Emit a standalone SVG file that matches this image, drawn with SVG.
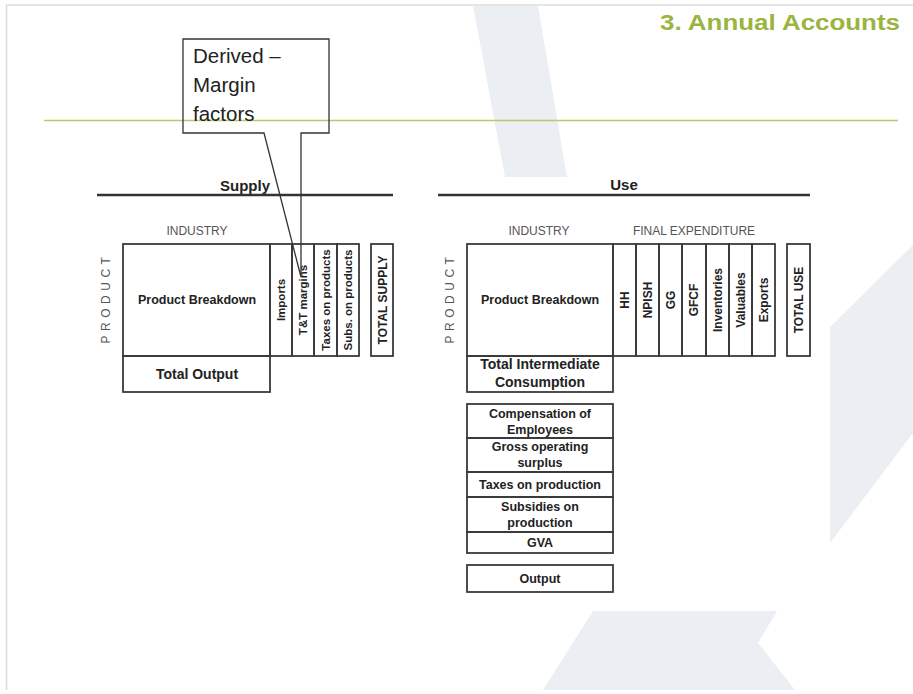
<svg xmlns="http://www.w3.org/2000/svg" width="913" height="694" viewBox="0 0 913 694">
<style>
  text { font-family: "Liberation Sans", Arial, sans-serif; fill: #222; }
  .wm { fill: #ebeff4; stroke: none; }
  .box { fill: none; stroke: #3a3a3a; stroke-width: 1.8; }
  .hd { font-size: 15px; font-weight: bold; text-anchor: middle; }
  .cap { font-size: 12px; fill: #555; text-anchor: middle; }
  .prod { font-size: 12px; fill: #555; letter-spacing: 4.5px; text-anchor: middle; }
  .pb { font-size: 12.5px; font-weight: bold; text-anchor: middle; }
  .big { font-size: 14px; font-weight: bold; text-anchor: middle; }
  .col { font-size: 11.5px; font-weight: bold; text-anchor: middle; }
  .col2 { font-size: 12px; font-weight: bold; text-anchor: middle; }
  .st { font-size: 12.5px; font-weight: bold; text-anchor: middle; }
  .rule { stroke: #333; stroke-width: 2.6; }
</style>
<rect x="0" y="0" width="913" height="694" fill="#ffffff"/>
<g id="background">
  <polygon class="wm" points="473,6 538,6 567,177 505,177"/>
  <polygon class="wm" points="913,245 830,327 830,543 913,433"/>
  <polygon class="wm" points="593,611 777,611 758,643 795,690 543,690"/>
  <line x1="6" y1="5" x2="913" y2="5" stroke="#dcdcdc" stroke-width="1.5"/>
  <line x1="6.5" y1="5" x2="6.5" y2="690" stroke="#dcdcdc" stroke-width="1.5"/>
</g>
<g id="title">
  <text x="900" y="30" text-anchor="end" font-size="22" font-weight="bold" style="fill:#9ab440" textLength="240" lengthAdjust="spacingAndGlyphs">3. Annual Accounts</text>
  <line x1="44" y1="120.5" x2="898" y2="120.5" stroke="#b7cb6e" stroke-width="1.5"/>
</g>

<g id="supply">
  <text class="hd" x="245" y="191">Supply</text>
  <line class="rule" x1="97" y1="195" x2="393" y2="195"/>
  <text class="cap" x="197" y="235">INDUSTRY</text>
  <text class="prod" transform="translate(110,300) rotate(-90)" x="2" y="0">PRODUCT</text>
  <g id="supply-breakdown">
    <rect class="box" x="123" y="244" width="147" height="112"/>
    <text class="pb" x="197" y="304">Product Breakdown</text>
  </g>
  <g id="supply-total-output">
    <rect class="box" x="123" y="356" width="147" height="36"/>
    <text class="big" x="197" y="379">Total Output</text>
  </g>
  <g id="supply-imports">
    <rect class="box" x="270" y="244" width="22" height="112"/>
    <text class="col" transform="translate(285,300) rotate(-90)">Imports</text>
  </g>
  <g id="supply-tt-margins">
    <rect class="box" x="292" y="244" width="22" height="112"/>
    <text class="col" transform="translate(307,300) rotate(-90)">T&amp;T margins</text>
  </g>
  <g id="supply-taxes">
    <rect class="box" x="314" y="244" width="23" height="112"/>
    <text class="col" transform="translate(329.5,300) rotate(-90)">Taxes on products</text>
  </g>
  <g id="supply-subs">
    <rect class="box" x="337" y="244" width="22" height="112"/>
    <text class="col" transform="translate(352,300) rotate(-90)">Subs. on products</text>
  </g>
  <g id="supply-total">
    <rect class="box" x="371" y="244" width="22" height="112"/>
    <text class="col2" transform="translate(386.5,300) rotate(-90)">TOTAL SUPPLY</text>
  </g>
</g>

<g id="use">
  <text class="hd" x="624" y="190">Use</text>
  <line class="rule" x1="438" y1="195" x2="810" y2="195"/>
  <text class="cap" x="539" y="235">INDUSTRY</text>
  <text class="cap" x="694" y="235">FINAL EXPENDITURE</text>
  <text class="prod" transform="translate(454,300) rotate(-90)" x="2" y="0">PRODUCT</text>
  <g id="use-breakdown">
    <rect class="box" x="467" y="244" width="146" height="112"/>
    <text class="pb" x="540" y="304">Product Breakdown</text>
  </g>
  <g id="use-tic">
    <rect class="box" x="467" y="356" width="146" height="36"/>
    <text class="big" x="540" y="369">Total Intermediate</text>
    <text class="big" x="540" y="387">Consumption</text>
  </g>
  <g id="use-hh">
    <rect class="box" x="613" y="244" width="23" height="112"/>
    <text class="col2" transform="translate(628.5,300) rotate(-90)">HH</text>
  </g>
  <g id="use-npish">
    <rect class="box" x="636" y="244" width="23" height="112"/>
    <text class="col2" transform="translate(651.5,300) rotate(-90)">NPISH</text>
  </g>
  <g id="use-gg">
    <rect class="box" x="659" y="244" width="23" height="112"/>
    <text class="col2" transform="translate(674.5,300) rotate(-90)">GG</text>
  </g>
  <g id="use-gfcf">
    <rect class="box" x="682" y="244" width="24" height="112"/>
    <text class="col2" transform="translate(698,300) rotate(-90)">GFCF</text>
  </g>
  <g id="use-inventories">
    <rect class="box" x="706" y="244" width="23" height="112"/>
    <text class="col2" transform="translate(721.5,300) rotate(-90)">Inventories</text>
  </g>
  <g id="use-valuables">
    <rect class="box" x="729" y="244" width="23" height="112"/>
    <text class="col2" transform="translate(744.5,300) rotate(-90)">Valuables</text>
  </g>
  <g id="use-exports">
    <rect class="box" x="752" y="244" width="23" height="112"/>
    <text class="col2" transform="translate(767.5,300) rotate(-90)">Exports</text>
  </g>
  <g id="use-total">
    <rect class="box" x="787" y="244" width="23" height="112"/>
    <text class="col2" transform="translate(803,300) rotate(-90)">TOTAL USE</text>
  </g>
  <g id="use-coe">
    <rect class="box" x="467" y="404" width="146" height="34"/>
    <text class="st" x="540" y="418">Compensation of</text>
    <text class="st" x="540" y="434">Employees</text>
  </g>
  <g id="use-gos">
    <rect class="box" x="467" y="438" width="146" height="34"/>
    <text class="st" x="540" y="451">Gross operating</text>
    <text class="st" x="540" y="467">surplus</text>
  </g>
  <g id="use-taxes">
    <rect class="box" x="467" y="472" width="146" height="25"/>
    <text class="st" x="540" y="489">Taxes on production</text>
  </g>
  <g id="use-subsidies">
    <rect class="box" x="467" y="497" width="146" height="35"/>
    <text class="st" x="540" y="511">Subsidies on</text>
    <text class="st" x="540" y="527">production</text>
  </g>
  <g id="use-gva">
    <rect class="box" x="467" y="532" width="146" height="21"/>
    <text class="st" x="540" y="547">GVA</text>
  </g>
  <g id="use-output">
    <rect class="box" x="467" y="565" width="146" height="27"/>
    <text class="st" x="540" y="583">Output</text>
  </g>
</g>

<g id="callout">
  <path d="M183,39 H329 V133 H301 V277 L264,133 H183 Z" fill="none" stroke="#333" stroke-width="1.3"/>
  <text x="193" y="63" font-size="20.5">Derived –</text>
  <text x="193" y="92" font-size="20.5">Margin</text>
  <text x="193" y="121" font-size="20.5">factors</text>
</g>
</svg>
